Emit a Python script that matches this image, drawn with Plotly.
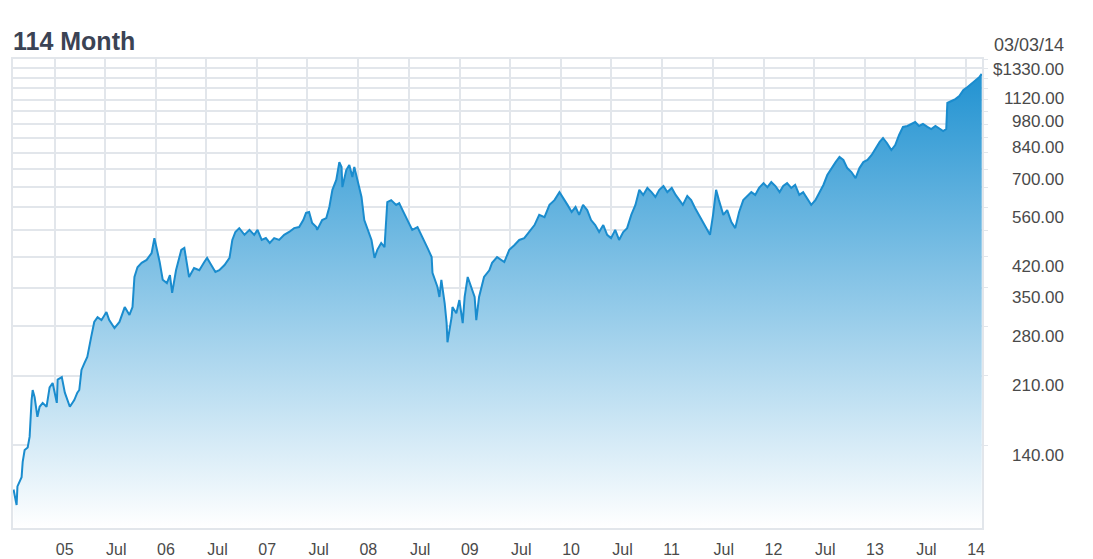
import math
import plotly.graph_objects as go

# ---- data ----
dates = [
    "2004-08-05","2004-08-16","2004-08-19","2004-09-03","2004-09-07","2004-09-14","2004-09-25","2004-10-02",
    "2004-10-09","2004-10-13","2004-10-20","2004-10-30","2004-11-07","2004-11-18","2004-12-02","2004-12-13",
    "2004-12-24","2005-01-08","2005-01-11","2005-01-26","2005-02-06","2005-02-24","2005-03-12","2005-03-23",
    "2005-03-30","2005-04-07","2005-04-18","2005-04-28","2005-05-12","2005-05-23","2005-06-04",
    "2005-06-18","2005-07-06","2005-07-16","2005-08-04","2005-08-22","2005-09-10","2005-09-27","2005-10-08",
    "2005-10-15","2005-10-26","2005-11-10","2005-11-28","2005-12-16","2005-12-26","2006-01-14","2006-01-25",
    "2006-02-09","2006-02-20","2006-02-28","2006-03-14","2006-04-02","2006-04-13","2006-04-30","2006-05-18",
    "2006-06-06","2006-06-24","2006-07-04","2006-07-19","2006-08-03","2006-08-17","2006-09-05","2006-09-23",
    "2006-10-03","2006-10-14","2006-10-28","2006-11-16","2006-12-04","2006-12-21","2007-01-02","2007-01-17",
    "2007-02-01","2007-02-15","2007-03-03","2007-03-21","2007-04-08","2007-04-26","2007-05-14","2007-06-01",
    "2007-06-16","2007-06-26","2007-07-07","2007-07-18","2007-08-02","2007-08-05","2007-08-23","2007-09-07",
    "2007-09-18","2007-09-29","2007-10-13","2007-10-24","2007-11-01","2007-11-04","2007-11-18","2007-11-29",
    "2007-12-10","2007-12-17","2007-12-28","2008-01-12","2008-01-22","2008-02-03","2008-02-17","2008-02-28",
    "2008-03-09","2008-03-23","2008-04-04","2008-04-14","2008-04-28","2008-05-16","2008-05-27","2008-06-08",
    "2008-06-25","2008-07-13","2008-08-01","2008-08-19","2008-09-06","2008-09-21","2008-09-24","2008-10-12",
    "2008-10-19","2008-10-26","2008-11-07","2008-11-14","2008-11-17","2008-12-02","2008-12-05","2008-12-19",
    "2008-12-30","2009-01-11","2009-01-18","2009-01-29","2009-02-13","2009-02-23","2009-03-01","2009-03-11",
    "2009-03-29","2009-04-17","2009-04-27","2009-05-15",
    "2009-06-10","2009-06-28","2009-07-16","2009-08-03","2009-08-21","2009-09-09","2009-09-27","2009-10-14",
    "2009-11-02","2009-11-20","2009-12-08","2009-12-26","2010-01-10","2010-01-24","2010-02-08","2010-02-22",
    "2010-03-07","2010-03-21","2010-04-05","2010-04-19","2010-05-04","2010-05-18","2010-06-02","2010-06-16",
    "2010-06-30","2010-07-15","2010-07-29","2010-08-13","2010-08-27","2010-09-11","2010-09-26","2010-10-10",
    "2010-10-24","2010-11-08","2010-11-23","2010-12-07","2010-12-21","2011-01-05","2011-01-19","2011-02-04",
    "2011-02-18","2011-03-02","2011-03-16","2011-04-01","2011-04-15","2011-04-29","2011-05-13","2011-05-27",
    "2011-06-12","2011-06-22","2011-07-03","2011-07-14","2011-07-24","2011-08-09","2011-08-23","2011-09-07",
    "2011-09-21","2011-10-05","2011-10-20","2011-11-04","2011-11-18","2011-12-02","2011-12-16","2012-01-01",
    "2012-01-15","2012-01-29","2012-02-13","2012-02-28","2012-03-12","2012-03-26","2012-04-10","2012-04-24",
    "2012-05-09","2012-05-23","2012-06-07","2012-06-21","2012-07-06","2012-07-20","2012-08-04","2012-08-18",
    "2012-09-02","2012-09-17","2012-10-01","2012-10-15","2012-10-29","2012-11-13","2012-11-28","2012-12-12",
    "2012-12-26","2013-01-10","2013-01-25","2013-02-09","2013-02-23","2013-03-07","2013-03-21","2013-04-06",
    "2013-04-20","2013-05-04","2013-05-18","2013-06-03","2013-06-17","2013-07-01","2013-07-15","2013-07-29",
    "2013-08-14","2013-08-28","2013-09-12","2013-09-26","2013-10-10","2013-10-21","2013-10-25","2013-11-09",
    "2013-11-23","2013-12-07","2013-12-22","2014-01-06","2014-01-20","2014-02-04","2014-02-18","2014-02-26",
]
prices = [
    108, 98.7, 110, 116, 127, 136, 138, 147,
    182, 193, 185, 165, 175, 179, 175, 196,
    201, 179, 205, 208, 190, 175, 182, 190,
    193, 217, 226, 234, 263, 287, 295,
    290, 304, 290, 277, 287, 313, 299, 313,
    373, 395, 405, 412, 429, 468, 407, 367,
    360, 377, 340, 388, 437, 442, 373, 393,
    388, 407, 417, 400, 384, 388, 400, 417,
    463, 485, 496, 477, 491, 477, 491, 463,
    468, 455, 468, 463, 477, 485, 496, 499,
    520, 542, 545, 511, 499, 491, 520, 526,
    561, 620, 657, 729, 709, 630, 696, 717,
    668, 709, 657, 595, 520, 491, 463, 417,
    437, 455, 444, 577, 584, 568, 574, 551,
    520, 491, 499, 471, 442, 419, 382, 352,
    332, 367, 320, 285, 255, 295, 313, 302,
    326, 285, 332, 373, 346, 332, 290, 332,
    373, 388, 405, 419,
    407, 437, 449, 463, 468, 485, 505, 536,
    529, 568, 584, 612, 591, 568, 545, 561,
    536, 568, 551, 520, 505, 485, 505, 477,
    468, 491, 463, 485, 496, 536, 568, 620,
    602, 627, 612, 595, 620, 634, 612, 627,
    602, 584, 568, 598, 584, 558, 536, 514,
    491, 477, 536, 620, 584, 536, 551, 514,
    496, 545, 584, 598, 612, 602, 627, 645,
    630, 649, 634, 612, 634, 645, 627, 638,
    602, 612, 591, 568, 584, 612, 638, 676,
    704, 729, 751, 738, 704, 688, 664, 704,
    729, 738, 760, 791, 820, 839, 815, 782,
    805, 854, 895, 900, 911, 921, 900, 911,
    895, 884, 900, 889, 874, 884, 1029, 1041,
    1053, 1072, 1110, 1130, 1150, 1177, 1198, 1219,
]

x_tick_dates = ["2005-01-01","2005-07-01","2006-01-01","2006-07-01","2007-01-01","2007-07-01",
                "2008-01-01","2008-07-01","2009-01-01","2009-07-01","2010-01-01","2010-07-01",
                "2011-01-01","2011-07-01","2012-01-01","2012-07-01","2013-01-01","2013-07-01","2014-01-01"]
x_tick_labels = ["05","Jul","06","Jul","07","Jul","08","Jul","09","Jul","10","Jul",
                 "11","Jul","12","Jul","13","Jul","14"]

y_grid_values = [140, 210, 280, 350, 420, 490, 560, 630, 700, 770, 840, 910, 980,
                 1050, 1120, 1190, 1260, 1330]
y_label_values = [140, 210, 280, 350, 420, 560, 700, 840, 980, 1120, 1330]

title_text = "114 Month"
date_text = "03/03/14"
x_range = ["2004-08-03", "2014-02-27"]
y_range_values = [86.3, 1330]

# ---- figure ----
line_color = "#1a8cce"
grid_color = "#e2e6eb"
text_color = "#4a4a4a"
font_family = "Liberation Sans, Arial, sans-serif"

fig = go.Figure()
fig.add_trace(go.Scatter(
    x=dates, y=prices, mode="lines",
    line=dict(color=line_color, width=2),
    fill="tozeroy",
    fillgradient=dict(type="vertical", start=y_range_values[0], stop=y_range_values[1],
                      colorscale=[[0, "#ffffff"], [1, "#1a8fd0"]]),
    showlegend=False, hoverinfo="x+y",
))

annotations = []
for v in y_label_values:
    txt = f"{v:.2f}"
    if v == y_label_values[-1]:
        txt = "$" + txt
    annotations.append(dict(
        x=1.0867, xref="paper", xanchor="right",
        y=math.log10(v), yref="y", yanchor="middle", yshift=-10,
        text=txt, showarrow=False,
        font=dict(family=font_family, size=17, color=text_color),
    ))
annotations.append(dict(
    x=1.0867, xref="paper", xanchor="right",
    y=1.03, yref="paper", yanchor="middle",
    text=date_text, showarrow=False,
    font=dict(family=font_family, size=18, color=text_color),
))

fig.update_layout(
    width=1093, height=559,
    margin=dict(l=13, r=111, t=59, b=31, autoexpand=False),
    paper_bgcolor="white", plot_bgcolor="white",
    title=dict(text=f"<b>{title_text}</b>", x=13/1093, xanchor="left", xref="container",
               y=1-41/559, yanchor="middle", yref="container",
               font=dict(family=font_family, size=25, color="#3b4354")),
    xaxis=dict(
        type="date", range=x_range, automargin=False,
        tickmode="array", tickvals=x_tick_dates, ticktext=x_tick_labels,
        ticklabelposition="outside right", ticklabelstandoff=6,
        showgrid=True, gridcolor=grid_color, gridwidth=2,
        showline=True, mirror=True, linecolor=grid_color, linewidth=2,
        ticks="", zeroline=False,
        tickfont=dict(family=font_family, size=16, color=text_color),
    ),
    yaxis=dict(
        type="log", side="right", automargin=False,
        range=[math.log10(y_range_values[0]), math.log10(y_range_values[1])],
        tickmode="array", tickvals=y_grid_values, showticklabels=False,
        showgrid=True, gridcolor=grid_color, gridwidth=2,
        showline=True, mirror=True, linecolor=grid_color, linewidth=2,
        ticks="outside", ticklen=4, tickcolor=grid_color, zeroline=False,
    ),
    annotations=annotations,
)

fig.write_html("out.html", config={"displayModeBar": False},
               post_script="document.body.style.margin='0';")
